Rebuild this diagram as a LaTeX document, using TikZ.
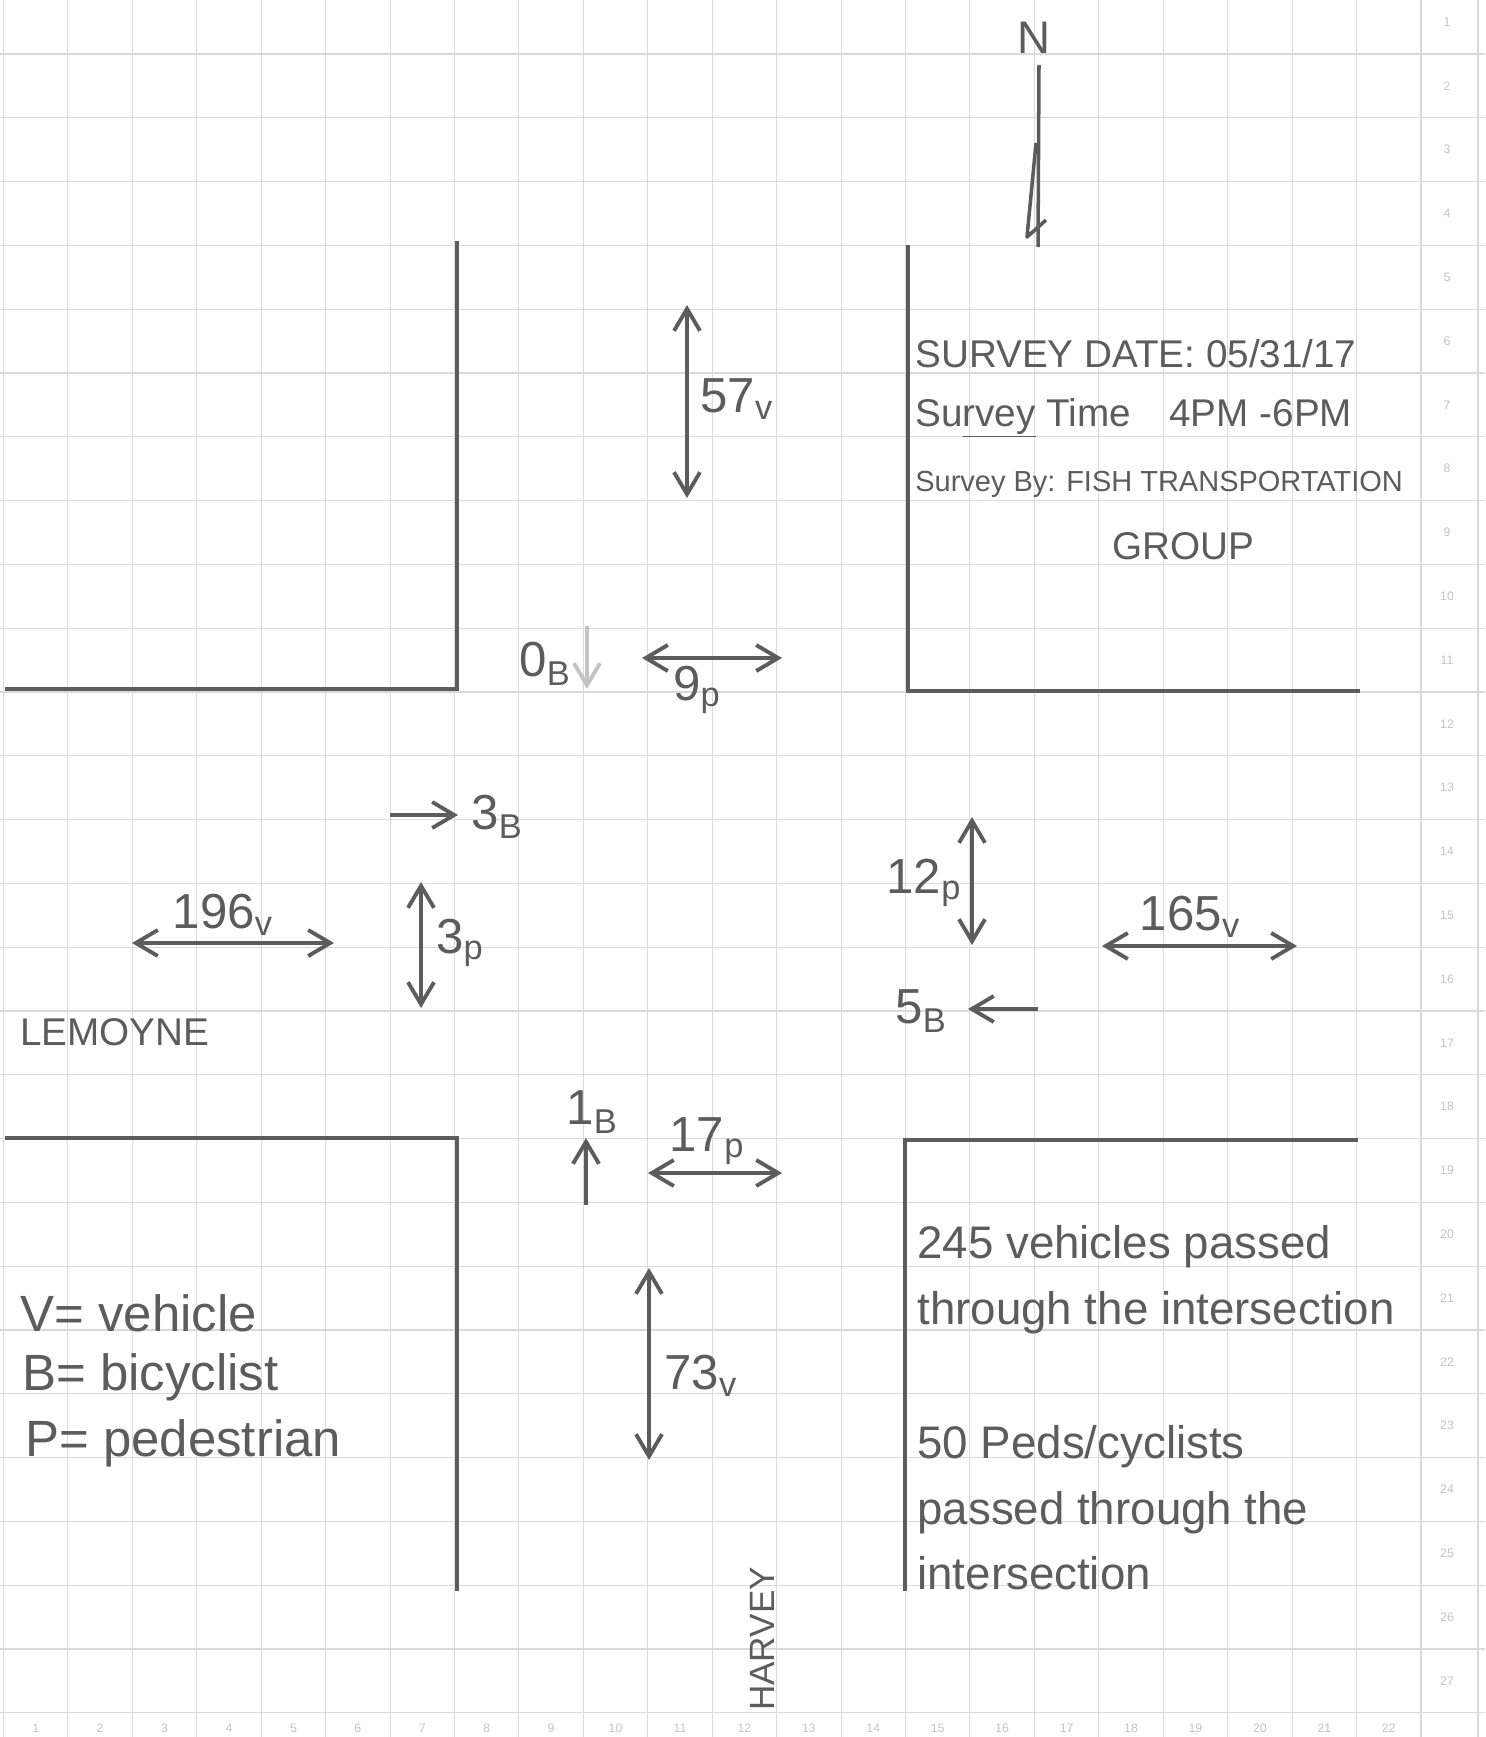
\documentclass[tikz,border=0pt]{standalone}
\usepackage{xcolor}
\usepackage{fontspec}
\setmainfont{Liberation Sans}
\usetikzlibrary{arrows.meta, positioning, calc}

\definecolor{pencil}{HTML}{5C5C5C}
\definecolor{gridgray}{HTML}{DADADA}
\definecolor{faint}{HTML}{C4C4C4}

\begin{document}
\begin{tikzpicture}[x=0.02cm, y=-0.02cm,
    every node/.style={text=pencil, inner sep=0pt},
    >={Straight Barb[length=4.4mm, width=5.2mm]},
    gridline/.style={draw=gridgray, line width=0.6pt},
    tick/.style={text=faint, font=\fontsize{7}{8}\selectfont},
    curb/.style={draw=pencil, line width=1.9pt},
    flow/.style={draw=pencil, line width=2.2pt},
    count/.style={font=\fontsize{28}{30}\selectfont},
    survey/.style={anchor=west, font=\fontsize{22}{24}\selectfont},
    note/.style={anchor=west, font=\fontsize{26}{28}\selectfont},
    legend/.style={anchor=west, font=\fontsize{29}{31}\selectfont},
    street/.style={font=\fontsize{22}{24}\selectfont}]
    \useasboundingbox (0,0) rectangle (1485,1737);
    \fill[white] (0,0) rectangle (1485,1737);
    % grid paper
    \foreach \k in {0,...,22}
        \draw[gridline] ({3.5+64.43*\k},0) -- ({3.5+64.43*\k},1737);
    \draw[gridline] (1478,0) -- (1478,1737);
    \foreach \k in {0,...,26}
        \draw[gridline] (0,{54+63.8*\k}) -- (1485,{54+63.8*\k});
    \foreach \k in {1,...,27}
        \node[tick] (row\k) at (1447,{22+63.8*(\k-1)}) {\k};
    \foreach \k in {1,...,22}
        \node[tick] (col\k) at ({35.7+64.43*(\k-1)},1728) {\k};

    % curbs
    \draw[curb] (457,241) -- (457,689) -- (5,689);
    \draw[curb] (908,245) -- (908,691) -- (1360,691);
    \draw[curb] (5,1138) -- (457,1138) -- (457,1591);
    \draw[curb] (1358,1140) -- (905,1140) -- (905,1591);

    % north arrow
    \node[font=\fontsize{26}{28}\selectfont] (north) at (1034,38) {N};
    \draw[flow, line width=2pt] (1039,65) -- (1038,247);
    \draw[flow, line width=2pt, line join=round] (1036,143) -- (1027,237) -- (1046,220);

    % survey info
    \node[survey] (date) at (915,354) {SURVEY DATE: 05/31/17};
    \node[survey] (time) at (915,418) {Su\underline{rvey} Time\quad 4PM -6PM};
    \node[survey, font=\fontsize{16.5}{18}\selectfont] (by) at (915,484) {Survey By: FISH TRANSPORTATION};
    \node[survey, anchor=center] (group) at (1183,546) {GROUP};

    % north leg
    \draw[flow, <->] (687,305) -- (687,498);
    \node[count, anchor=west] (n57) at (700,399) {57\textsubscript{v}};
    \node[count] (n0) at (545,664) {0\textsubscript{B}};
    \draw[flow, draw=faint, ->] (587,626) -- (587,689);
    \draw[flow, <->] (642,658) -- (782,658);
    \node[count] (n9) at (697,690) {9\textsubscript{p}};

    % west leg
    \draw[flow, ->] (390,815) -- (458,815);
    \node[count] (w3b) at (497,817) {3\textsubscript{B}};
    \draw[flow, <->] (132,943) -- (334,943);
    \node[count] (w196) at (223,915) {196\textsubscript{v}};
    \draw[flow, <->] (421,882) -- (421,1008);
    \node[count] (w3p) at (460,943) {3\textsubscript{p}};
    \node[street, anchor=west] (lemoyne) at (20,1032) {LEMOYNE};

    % east leg
    \draw[flow, <->] (972,817) -- (972,945);
    \node[count] (e12) at (924,883) {12\textsubscript{p}};
    \draw[flow, <->] (1102,946) -- (1297,946);
    \node[count] (e165) at (1190,917) {165\textsubscript{v}};
    \draw[flow, ->] (1038,1009) -- (968,1009);
    \node[count] (e5) at (921,1011) {5\textsubscript{B}};

    % south leg
    \draw[flow, ->] (586,1205) -- (586,1138);
    \node[count] (s1) at (592,1112) {1\textsubscript{B}};
    \draw[flow, <->] (648,1173) -- (782,1173);
    \node[count] (s17) at (707,1141) {17\textsubscript{p}};
    \draw[flow, <->] (649,1268) -- (649,1460);
    \node[count, anchor=west] (s73) at (664,1376) {73\textsubscript{v}};
    \node[street, font=\fontsize{20}{22}\selectfont, rotate=90] (harvey) at (762,1639) {HARVEY};

    % legend
    \node[legend] (legv) at (20,1313) {V= vehicle};
    \node[legend] (legb) at (22,1377) {B= bicyclist};
    \node[legend] (legp) at (25,1443) {P= pedestrian};

    % totals
    \node[note] (tot1) at (917,1247) {245 vehicles passed};
    \node[note] (tot2) at (917,1313) {through the intersection};
    \node[note] (tot3) at (917,1447) {50 Peds/cyclists};
    \node[note] (tot4) at (917,1513) {passed through the};
    \node[note] (tot5) at (917,1573) {intersection};
\end{tikzpicture}
\end{document}
